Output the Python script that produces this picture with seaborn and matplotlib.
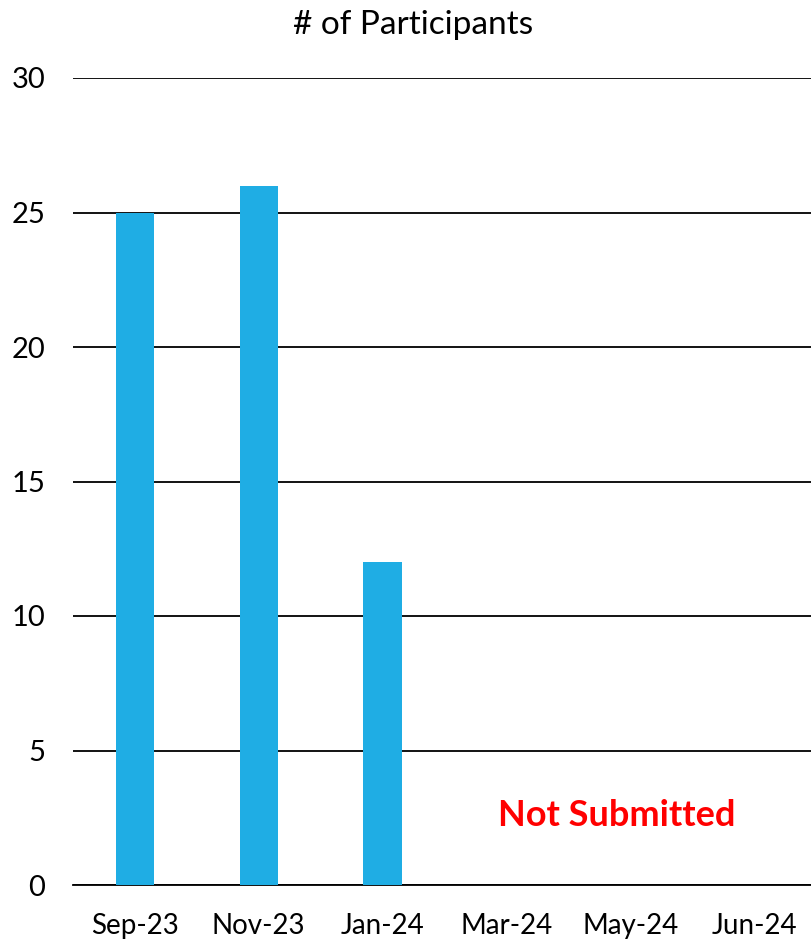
import matplotlib
matplotlib.use("Agg")
import matplotlib.pyplot as plt
import seaborn as sns
import pandas as pd

months = ["Sep-23", "Nov-23", "Jan-24", "Mar-24", "May-24", "Jun-24"]
participants = [25, 26, 12, 0, 0, 0]
yticks = [0, 5, 10, 15, 20, 25, 30]
title = "# of Participants"
note = "Not Submitted"

sns.set_theme(style="white")
plt.rcParams['font.family'] = ['Lato', 'DejaVu Sans']

df = pd.DataFrame({"month": months, "n": participants})

fig = plt.figure(figsize=(8.12, 9.43), dpi=100)
ax = fig.add_axes([73/812, 58/943, 743/812, (885-78)/943])

sns.barplot(data=df, x="month", y="n", color="#1FADE4", saturation=1,
            width=0.31, linewidth=0, ax=ax, zorder=3)

ax.set_xlim(-0.5, 5.5)
ax.set_ylim(0, 30)
ax.set_yticks(yticks)
ax.yaxis.grid(True, color="black", linewidth=1.3, zorder=0)
ax.set_axisbelow(True)
for s in ["left", "right", "top"]:
    ax.spines[s].set_visible(False)
ax.spines["bottom"].set_color("black")
ax.spines["bottom"].set_linewidth(1.3)
ax.tick_params(axis="y", length=0, labelsize=21, colors="black", pad=20)
ax.tick_params(axis="x", length=0, labelsize=20, colors="black", pad=20)
ax.set_xlabel("")
ax.set_ylabel("")

fig.text(0.5 + 7/812, 1 - 25/943, title, ha="center", va="center",
         fontsize=24, color="black")
ax.text(3.89, 2.58, note, ha="center", va="center", fontsize=26,
        fontweight="bold", color="#FF0000")

fig.savefig("out.png", dpi=100)
